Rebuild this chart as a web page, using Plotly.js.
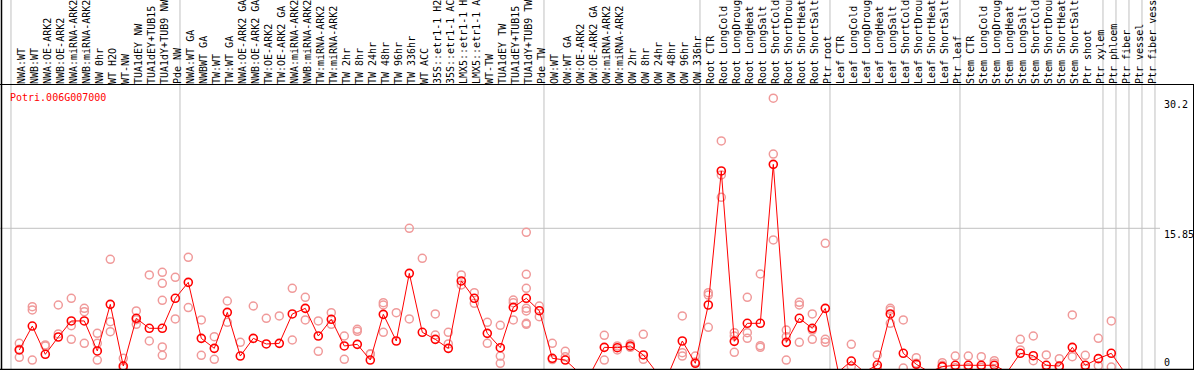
<!DOCTYPE html>
<html>
<head>
<meta charset="utf-8">
<script src="https://cdn.plot.ly/plotly-3.0.1.min.js"></script>
<style>html,body{margin:0;padding:0;background:#fff;}#chart{width:1194px;height:370px;}</style>
</head>
<body>
<div id="chart"></div>
<script>
// ---- data ----
const geneId = "Potri.006G007000";
const sampleLabels = [
  "NWA:WT","NWB:WT","NWA:OE-ARK2","NWB:OE-ARK2","NWA:miRNA-ARK2","NWB:miRNA-ARK2","NW 0hr","WT H2O","WT-NW","TUA1dEY NW","TUA1dEY+TUB15","TUA1dY+TUB9 NW","Pde NW",
  "NWA:WT GA","NWBWT GA","TW:WT","TW:WT GA","NWA:OE-ARK2 GA","NWB:OE-ARK2 GA","TW:OE-ARK2","TW:OE-ARK2 GA","NWA:miRNA-ARK2","NWB:miRNA-ARK2","TW:miRNA-ARK2","TW:miRNA-ARK2",
  "TW 2hr","TW 8hr","TW 24hr","TW 48hr","TW 96hr","TW 336hr","WT ACC","35S::etr1-1 H2","35S::etr1-1 AC","LMX5::etr1-1 H","LMX5::etr1-1 A","WT-TW","TUA1dEY TW","TUA1dEY+TUB15","TUA1dY+TUB9 TW","Pde TW",
  "OW:WT","OW:WT GA","OW:OE-ARK2","OW:OE-ARK2 GA","OW:miRNA-ARK2","OW:miRNA-ARK2","OW 2hr","OW 8hr","OW 24hr","OW 48hr","OW 96hr","OW 336hr",
  "Root CTR","Root LongCold","Root LongDroug","Root LongHeat","Root LongSalt","Root ShortCold","Root ShortDrou","Root ShortHeat","Root ShortSalt","Ptr root",
  "Leaf CTR","Leaf LongCold","Leaf LongDroug","Leaf LongHeat","Leaf LongSalt","Leaf ShortCold","Leaf ShortDrou","Leaf ShortHeat","Leaf ShortSalt","Ptr leaf",
  "Stem CTR","Stem LongCold","Stem LongDroug","Stem LongHeat","Stem LongSalt","Stem ShortCold","Stem ShortDrou","Stem ShortHeat","Stem ShortSalt","Ptr shoot","Ptr xylem",
  "Ptr phloem","Ptr fiber","Ptr vessel","Ptr fiber vess"
];
// number of samples in each group (gridline after each group)
const groupSizes = [13, 28, 12, 10, 10, 11, 1, 1, 1, 1];

const meanValues = [
  2.43,5.07,1.95,3.86,5.63,5.63,2.32,7.46,0.66,5.92,4.82,4.82,8.13,
  9.89,3.71,2.61,6.58,1.76,3.71,3.09,3.16,6.4,7.02,3.97,5.81,
  2.87,3.05,1.32,6.36,3.42,10.88,4.38,3.6,2.61,10.04,8.13,4.26,2.68,7.13,8.13,6.76,
  1.51,1.32,0,0,2.72,2.68,2.87,1.88,0,0,3.42,0.96,
  7.39,22.17,3.38,5.37,5.37,22.9,3.27,5.92,4.82,7.02,
  0,1.21,0,0.77,6.4,2.06,0.85,0,0.59,0.74,
  0.74,0.74,0.74,0,2.06,1.8,0.74,0.66,2.72,0.74,1.47,
  2.06,0,0,0
];

const replicateValues = [
  [3.16,2.5,1.62],[7.21,6.84,1.32],[2.87,2.98,0],[7.39,4.2,0],[8.13,5.11,3.6],[7.02,6.65,3.16],[4.26,3.16,1.32,0],[12.43,5.55,4.45],[1.51,0.47,0],[6.73,5.77,5.26],[10.7,3.42,0],[10.99,9.78,7.9,2.76,1.84,0,0],[10.44,5.85],
  [12.65,7.1],[5.74,1.84],[3.9,1.4],[7.83,5.48],[3.27,0],[7.28,0],[5.92,0],[6.18,0],[9.23,3.53],[8.24,5.74],[5.63,2.28],[6.54,5.26],
  [3.97,1.4],[4.71,4.49,0],[2.0,1.95,0],[7.65,7.39,4.38],[6.54,0],[15.85,5.85],[12.54,0,0],[6.4,4.08,0],[4.38,3.09,0],[10.7,9.6],[8.75,7.57],[5.48,3.16],[5.15,1.76,0.96],[7.94,7.65,5.74],[15.4,10.77,9.23,7.02,6.73,5.37,5.26,0],[7.28,6.1],
  [3.16,1.37,0],[2.28,1.68,0],[0,0],[0,0],[4.04,1.32],[2.87,2.43],[3.09,2.72],[4.15,1.4,0],[0,0],[0,0],[6.18,2.13,1.76],[1.76,1.1,0],
  [8.75,8.49,4.93],[25.48,21.73,19.26],[4.34,3.97,2.17],[8.24,4.34,3.71],[10.81,2.9,2.72],[30.2,24.04,14.56],[4.63,3.9,1.32],[7.68,7.39,3.27],[6.4,4.63,3.6],[14.19,3.6,3.27],
  [0,0],[3.05,0.6,0],[0,0],[1.88,0.43,0],[7.02,6.81,5.37],[5.74,0.44,0],[1.58,0.97,0],[0,0],[1.03,0.74,0],[1.76,0.46,0],
  [1.76,0.46,0],[1.69,0.53,0],[1.25,0.97,0],[0,0],[3.6,2.43,0],[3.97,1.25,0],[1.88,0.34,0],[1.47,0.51,0],[6.29,1.69,0],[1.84,0.38,0],[3.71,0.7,0],
  [5.63,0.55,0],[0,0],[0,0],[0,0]
];

const yTickValues = [0, 15.85, 30.2];
const yTickText = ["0", "15.85", "30.2"];

// ---- build ----
const W = 1194, H = 370;
const xs = sampleLabels.map((_, i) => i + 1);
const repX = [], repY = [];
replicateValues.forEach((arr, i) => arr.forEach(v => { repX.push(i + 1); repY.push(v); }));

const mono = "DejaVu Sans Mono, Liberation Mono, monospace";
const gridColor = "#c0c0c0";

// y scale: 0 sits 2px below the picture bottom, 9.067 px per unit
const pxPerUnit = 9.067;
const plotTop = 85;
const yMin = 2 / pxPerUnit;
const yMax = yMin + (H - plotTop) / pxPerUnit;
const colPx = 13, firstColPx = 19.3;
const xMin = 1 - firstColPx / colPx;
const xMax = xMin + W / colPx;
const topPaper = 1 + plotTop / (H - plotTop);

const shapes = [];
// vertical group gridlines
let acc = 0;
shapes.push({type:"line", xref:"x", yref:"paper", x0: acc + 0.36, x1: acc + 0.36, y0: 0, y1: topPaper, line:{color:gridColor, width:1}, layer:"below"});
groupSizes.forEach(n => {
  acc += n;
  shapes.push({type:"line", xref:"x", yref:"paper", x0: acc + 0.36, x1: acc + 0.36, y0: 0, y1: topPaper, line:{color:gridColor, width:1}, layer:"below"});
});
// horizontal midline grid
shapes.push({type:"line", xref:"paper", yref:"y", x0: 0, x1: 1160 / W, y0: yTickValues[1], y1: yTickValues[1], line:{color:gridColor, width:1}, layer:"below"});
// frame
const bottomPaper = 0.6 / (H - plotTop);
shapes.push({type:"line", xref:"paper", yref:"paper", x0: 1.5 / W, x1: 1.5 / W, y0: 0, y1: topPaper, line:{color:"#000", width:1.5}});
shapes.push({type:"line", xref:"paper", yref:"paper", x0: 0, x1: 1, y0: 1 + 0.5/(H-plotTop), y1: 1 + 0.5/(H-plotTop), line:{color:"#000", width:1}});
shapes.push({type:"line", xref:"paper", yref:"paper", x0: 0, x1: 1, y0: bottomPaper, y1: bottomPaper, line:{color:"#000", width:1.5}});
shapes.push({type:"line", xref:"paper", yref:"paper", x0: 1193.5 / W, x1: 1193.5 / W, y0: 0, y1: 1, line:{color:"#000", width:1}});

const annotations = yTickValues.map((v, i) => ({
  xref:"paper", yref:"y", x: 1162 / W, xanchor:"left",
  y: v === 0 ? yMin : v, yanchor: v === 0 ? "bottom" : "top",
  yshift: v === 0 ? 0 : 1,
  text: yTickText[i], showarrow:false,
  font:{family:mono, size:10, color:"#000"}
}));

const traces = [
  {x: repX, y: repY, type:"scatter", mode:"markers", cliponaxis:false, hoverinfo:"skip",
   marker:{symbol:"circle-open", size:8, color:"#f09a9a", line:{width:1.5, color:"#f09a9a"}}},
  {x: xs, y: meanValues, type:"scatter", mode:"lines+markers", cliponaxis:false,
   line:{color:"#ff0000", width:1},
   marker:{symbol:"circle-open", size:8, color:"#ff0000", line:{width:1.6, color:"#ff0000"}}}
];

const layout = {
  width: W, height: H,
  margin:{l:0, r:0, t:plotTop, b:0, pad:0},
  paper_bgcolor:"#fff", plot_bgcolor:"#fff",
  showlegend:false,
  title:{text: geneId, x: 10 / W, xanchor:"left", xref:"paper", y: 1 - 97 / H, yanchor:"middle",
         font:{family:mono, size:10, color:"#ff0000"}},
  xaxis:{range:[xMin, xMax], side:"top", tickmode:"array", tickvals: xs, ticktext: sampleLabels,
         tickangle:-90, tickfont:{family:mono, size:10, color:"#000"}, ticklabelshift: 2,
         showgrid:false, zeroline:false, showline:false, ticks:"", fixedrange:true},
  yaxis:{range:[yMin, yMax], showticklabels:false, showgrid:false, zeroline:false, showline:false, ticks:"", fixedrange:true},
  shapes: shapes,
  annotations: annotations
};

Plotly.newPlot("chart", traces, layout, {displayModeBar:false, staticPlot:true});
</script>
</body>
</html>
